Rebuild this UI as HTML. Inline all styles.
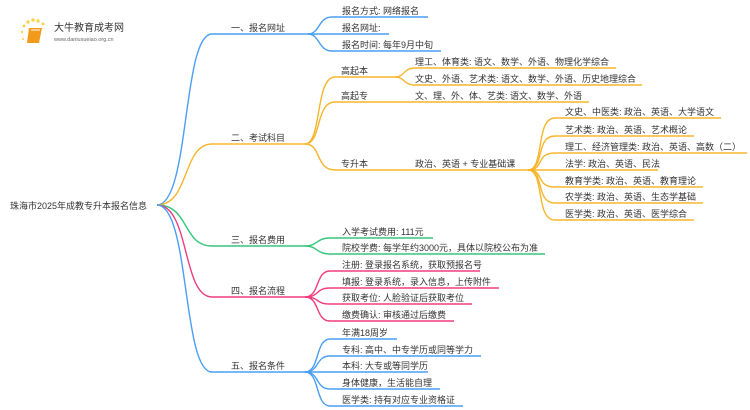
<!DOCTYPE html>
<html><head><meta charset="utf-8"><style>
html,body{margin:0;padding:0;background:#fff;}
svg{display:block;font-family:"Liberation Sans","Noto Sans CJK SC",sans-serif;}
text{font-size:9px;fill:#333;}
</style></head><body>
<svg width="750" height="410" viewBox="0 0 750 410" xmlns="http://www.w3.org/2000/svg">
<g fill="none" stroke-width="1.4">
<g stroke="#4a9ff5">
<path d="M157 205 C190 205,182 34,212 34 H308"/>
<path d="M308 34 C320 34,318 17,332 17 H428"/>
<path d="M308 34 H389"/>
<path d="M308 34 C320 34,318 51,332 51 H441"/>
</g>
<g stroke="#f7b52c">
<path d="M157 205 C190 205,182 144,212 144 H305"/>
<path d="M305 144 C322 144,315 77,335 77 H395"/>
<path d="M305 144 C322 144,315 102,335 102 H589"/>
<path d="M305 144 C322 144,315 170,335 170 H528"/>
<path d="M395 77 C405 77,403 68,415 68 H616"/>
<path d="M395 77 C405 77,403 85,415 85 H642"/>
<path d="M528 170 C545 170,535 118,555 118 H721"/>
<path d="M528 170 C545 170,535 136,555 136 H694"/>
<path d="M528 170 C545 170,535 153,555 153 H747"/>
<path d="M528 170 H658"/>
<path d="M528 170 C545 170,535 187,555 187 H703"/>
<path d="M528 170 C545 170,535 203,555 203 H703"/>
<path d="M528 170 C545 170,535 220,555 220 H694"/>
</g>
<g stroke="#35c77a">
<path d="M157 205 C190 205,182 246,212 246 H305"/>
<path d="M305 246 C318 246,316 238,330 238 H433"/>
<path d="M305 246 C318 246,316 254,330 254 H545"/>
</g>
<g stroke="#f03d7e">
<path d="M157 205 C190 205,182 297,212 297 H305"/>
<path d="M305 297 C320 297,315 271,330 271 H480"/>
<path d="M305 297 C320 297,315 288,330 288 H499"/>
<path d="M305 297 C320 297,315 304,330 304 H472"/>
<path d="M305 297 C320 297,315 321,330 321 H454"/>
</g>
<g stroke="#4a9ff5">
<path d="M157 205 C190 205,182 372,212 372 H305"/>
<path d="M305 372 C320 372,315 339,330 339 H397"/>
<path d="M305 372 C320 372,315 356,330 356 H481"/>
<path d="M305 372 H428"/>
<path d="M305 372 C320 372,315 389,330 389 H440"/>
<path d="M305 372 C320 372,315 406,330 406 H463"/>
</g>
</g>
<g>
<circle cx="24" cy="26" r="1.5" fill="#fbd34d"/><circle cx="28" cy="22" r="1.7" fill="#fbd34d"/><circle cx="33" cy="20" r="1.8" fill="#fbd34d"/><circle cx="38" cy="21" r="1.7" fill="#fbd34d"/><circle cx="43" cy="24" r="1.5" fill="#fbd34d"/><circle cx="22" cy="32" r="1.2" fill="#fbd34d"/><circle cx="23" cy="39" r="1" fill="#fbd34d"/>
<path d="M29 28 L42 28 L39 43 L27 43 Z" fill="#f29a1c"/>
<path d="M31 30 L40 30" stroke="#fff" stroke-width="1"/>
<text x="54" y="31" style="font-size:10px;fill:#333">大牛教育成考网</text>
<text x="54" y="41" style="font-size:5.5px;fill:#666">www.daniuxueiao.org.cn</text>
</g>
<text x="10" y="209">珠海市2025年成教专升本报名信息</text>
<text x="231" y="31">一、报名网址</text>
<text x="342" y="14">报名方式: 网络报名</text>
<text x="342" y="31">报名网址:</text>
<text x="342" y="48">报名时间: 每年9月中旬</text>
<text x="231" y="141">二、考试科目</text>
<text x="341" y="74">高起本</text>
<text x="341" y="99">高起专</text>
<text x="341" y="167">专升本</text>
<text x="415" y="65">理工、体育类: 语文、数学、外语、物理化学综合</text>
<text x="415" y="82">文史、外语、艺术类: 语文、数学、外语、历史地理综合</text>
<text x="415" y="99">文、理、外、体、艺类: 语文、数学、外语</text>
<text x="415" y="167">政治、英语 + 专业基础课</text>
<text x="565" y="115">文史、中医类: 政治、英语、大学语文</text>
<text x="565" y="133">艺术类: 政治、英语、艺术概论</text>
<text x="565" y="150">理工、经济管理类: 政治、英语、高数（二）</text>
<text x="565" y="167">法学: 政治、英语、民法</text>
<text x="565" y="184">教育学类: 政治、英语、教育理论</text>
<text x="565" y="200">农学类: 政治、英语、生态学基础</text>
<text x="565" y="217">医学类: 政治、英语、医学综合</text>
<text x="231" y="243">三、报名费用</text>
<text x="342" y="235">入学考试费用: 111元</text>
<text x="342" y="251">院校学费: 每学年约3000元，具体以院校公布为准</text>
<text x="231" y="294">四、报名流程</text>
<text x="342" y="268">注册: 登录报名系统，获取预报名号</text>
<text x="342" y="285">填报: 登录系统，录入信息，上传附件</text>
<text x="342" y="301">获取考位: 人脸验证后获取考位</text>
<text x="342" y="318">缴费确认: 审核通过后缴费</text>
<text x="231" y="369">五、报名条件</text>
<text x="342" y="336">年满18周岁</text>
<text x="342" y="353">专科: 高中、中专学历或同等学力</text>
<text x="342" y="369">本科: 大专或等同学历</text>
<text x="342" y="386">身体健康，生活能自理</text>
<text x="342" y="403">医学类: 持有对应专业资格证</text>
</svg>
</body></html>
